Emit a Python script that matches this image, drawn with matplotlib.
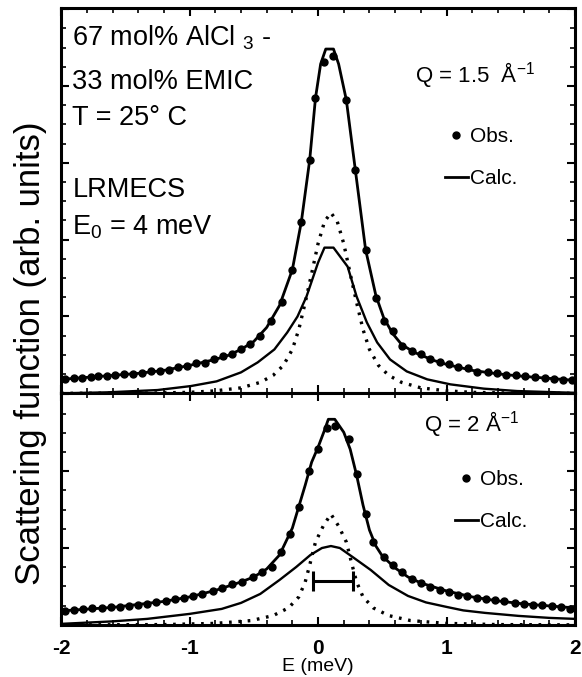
import matplotlib
matplotlib.use("Agg")
import matplotlib.pyplot as plt
from matplotlib.ticker import MultipleLocator

plt.rcParams['font.family'] = ['Liberation Sans', 'DejaVu Sans']
plt.rcParams['axes.unicode_minus'] = False

# ---- Q = 1.5 A^-1 (upper panel), arb. units ----
E_obs_top = [-1.97, -1.90, -1.84, -1.77, -1.71, -1.64, -1.58, -1.51, -1.44, -1.37,
             -1.30, -1.23, -1.16, -1.09, -1.02, -0.95, -0.88, -0.81, -0.74, -0.67,
             -0.60, -0.53, -0.45, -0.37, -0.28, -0.20, -0.13, -0.065, -0.02, 0.05,
             0.12, 0.22, 0.29, 0.37, 0.45, 0.51, 0.58, 0.65, 0.73, 0.80,
             0.87, 0.95, 1.02, 1.09, 1.17, 1.24, 1.32, 1.39, 1.46, 1.54,
             1.61, 1.69, 1.77, 1.84, 1.91, 1.98]
S_obs_top = [14, 15.7, 15.7, 16.7, 17.3, 17.3, 18.3, 19, 19, 20,
             22, 22, 23.3, 26.7, 27.3, 30.7, 30.7, 34, 37.3, 39,
             44, 49, 57, 72, 92, 124, 172, 234, 296, 332,
             338, 294, 224, 144, 96, 72, 62, 47, 42, 39,
             34, 31, 29, 26, 25, 21, 21, 20, 18.5, 18,
             17, 16, 15, 14, 13.5, 13]
E_calc_top = [-2.0, -1.8, -1.6, -1.4, -1.2, -1.0, -0.9, -0.8, -0.7, -0.6, -0.5, -0.4,
              -0.3, -0.2, -0.13, -0.065, -0.02, 0.02, 0.06, 0.12, 0.16, 0.22, 0.29,
              0.37, 0.45, 0.51, 0.58, 0.65, 0.75, 0.9, 1.0, 1.2, 1.4, 1.6, 1.8, 2.0]
S_calc_top = [14, 16, 18, 20, 23, 28, 31, 34, 38, 44, 52, 66,
              88, 124, 172, 234, 296, 330, 345, 345, 330, 294, 224,
              144, 98, 76, 60, 49, 41, 33, 29, 23, 19.5, 17, 15, 13]
E_nar_top = [-2.0, -1.3, -1.0, -0.8, -0.6, -0.45, -0.35, -0.27, -0.2, -0.15, -0.1, -0.05,
             0.0, 0.05, 0.1, 0.15, 0.2, 0.25, 0.3, 0.35, 0.4, 0.47, 0.55, 0.65,
             0.8, 1.0, 1.2, 1.5, 2.0]
S_nar_top = [0, 0.3, 1, 2.5, 5.5, 11, 18, 28, 44, 64, 91, 120,
             150, 172, 181, 172, 150, 120, 91, 64, 44, 28, 18, 11,
             5.5, 2.5, 1, 0.3, 0]
E_brd_top = [-2.0, -1.64, -1.25, -0.99, -0.79, -0.60, -0.47, -0.34, -0.24, -0.16, -0.09,
             0.0, 0.05, 0.12, 0.23, 0.30, 0.38, 0.46, 0.56, 0.69, 0.85, 1.03, 1.29,
             1.55, 2.0]
S_brd_top = [0, 1, 3.3, 7.3, 12, 21, 31, 44, 61, 77, 97,
             131, 146, 146, 127, 97, 71, 51, 34, 22, 14, 9, 4.7,
             2.3, 0.5]

# ---- Q = 2 A^-1 (lower panel) ----
E_obs_bot = [-1.97, -1.90, -1.83, -1.76, -1.68, -1.61, -1.54, -1.47, -1.40, -1.33,
             -1.26, -1.18, -1.11, -1.04, -0.97, -0.90, -0.82, -0.75, -0.67, -0.59,
             -0.51, -0.44, -0.36, -0.29, -0.22, -0.15, -0.07, 0.0, 0.07, 0.13,
             0.24, 0.30, 0.37, 0.43, 0.51, 0.58, 0.65, 0.73, 0.80, 0.87,
             0.95, 1.02, 1.09, 1.16, 1.24, 1.31, 1.38, 1.45, 1.53, 1.60,
             1.67, 1.74, 1.82, 1.89, 1.96]
S_obs_bot = [14, 15, 15.5, 16.5, 17, 17.5, 18, 19, 20, 21,
             22.5, 24, 25.5, 27, 29, 31, 34, 37, 41, 43.3,
             47.7, 52.7, 57.7, 72.7, 91, 117.7, 154, 176, 197.7, 199,
             186, 151, 111, 82.7, 68, 60, 52.7, 46, 42, 38,
             35, 33, 30, 28.5, 27, 25.5, 24.5, 23.5, 21.5, 21,
             20, 19.5, 19, 18, 16]
E_calc_bot = [-2.0, -1.6, -1.2, -1.0, -0.8, -0.6, -0.5, -0.4, -0.3, -0.2, -0.1, -0.05,
              0.0, 0.05, 0.08, 0.13, 0.2, 0.25, 0.3, 0.35, 0.4, 0.45, 0.5, 0.6,
              0.7, 0.8, 1.0, 1.2, 1.4, 1.6, 1.8, 2.0]
S_calc_bot = [14, 17.5, 23.5, 28, 34.5, 43, 48, 56, 70, 97, 140, 163,
              178, 195, 206, 206, 193, 176, 150, 120, 95, 79, 69, 57,
              48, 42, 34, 28, 24, 21, 19, 17]
E_nar_bot = [-2.0, -1.2, -0.8, -0.52, -0.35, -0.23, -0.15, -0.1, -0.067, -0.02, 0.04,
             0.1, 0.16, 0.22, 0.267, 0.3, 0.35, 0.43, 0.55, 0.72, 1.0, 1.4, 2.0]
S_nar_bot = [0, 0.3, 1.5, 4.3, 9.3, 17, 28, 43, 59, 83, 99,
             111, 99, 83, 59, 43, 28, 17, 9.3, 4.3, 1.5, 0.3, 0]
E_brd_bot = [-2.0, -1.6, -1.33, -1.0, -0.75, -0.6, -0.45, -0.3, -0.17, -0.06, 0.03,
             0.1, 0.17, 0.28, 0.41, 0.55, 0.70, 0.84, 1.0, 1.13, 1.3, 1.56, 1.8, 2.0]
S_brd_bot = [1, 3.5, 6, 11, 16, 22, 31, 45, 58, 70, 77,
             79, 77, 67, 55, 40, 29, 22.5, 18, 14.5, 12, 9, 7, 6]

# instrumental resolution bar (FWHM)
res_center, res_halfwidth, res_level = 0.115, 0.155, 44

fig, (ax1, ax2) = plt.subplots(2, 1, figsize=(5.82, 6.77), dpi=100, sharex=True,
                               gridspec_kw={'height_ratios': [386, 232], 'hspace': 0})
fig.subplots_adjust(left=0.105, right=0.988, top=0.988, bottom=0.077)

dotted = (0, (0.8, 2.0))
for ax, Eo, So, Ec, Sc, En, Sn, Eb, Sb, anchor in [
        (ax1, E_obs_top, S_obs_top, E_calc_top, S_calc_top, E_nar_top, S_nar_top,
         E_brd_top, S_brd_top, (0.71, 0.74)),
        (ax2, E_obs_bot, S_obs_bot, E_calc_bot, S_calc_bot, E_nar_bot, S_nar_bot,
         E_brd_bot, S_brd_bot, (0.73, 0.75))]:
    ax.plot(En, Sn, color='black', lw=2.4, linestyle=dotted)
    ax.plot(Eb, Sb, color='black', lw=1.7)
    calc, = ax.plot(Ec, Sc, color='black', lw=2.0)
    obs, = ax.plot(Eo, So, 'o', color='black', ms=5, linestyle='none')
    ax.set_xlim(-2, 2)
    ax.xaxis.set_major_locator(MultipleLocator(1))
    ax.xaxis.set_minor_locator(MultipleLocator(0.2))
    ax.yaxis.set_major_locator(MultipleLocator(77))
    ax.yaxis.set_minor_locator(MultipleLocator(19.25))
    ax.tick_params(which='both', direction='in', top=True, right=True, labelleft=False)
    ax.tick_params(which='major', length=6, width=1.5)
    ax.tick_params(which='minor', length=3.5, width=1.2)
    for sp in ax.spines.values():
        sp.set_linewidth(2.2)
    ax.legend([obs, calc], ['Obs.', 'Calc.'], frameon=False, numpoints=1,
              handlelength=1.1, handletextpad=0.1, labelspacing=1.1,
              fontsize=15, loc='upper left', bbox_to_anchor=anchor)

ax1.set_ylim(0, 386)
ax2.set_ylim(0, 232)
ax1.tick_params(labelbottom=False)

ax2.errorbar([res_center], [res_level], xerr=[res_halfwidth], color='black',
             lw=2.2, capsize=7, capthick=2.2, fmt='none')

ax1.text(0.688, 0.826, 'Q = 1.5  Å$^{\\mathregular{-1}}$', transform=ax1.transAxes,
         fontsize=16, va='center')
ax2.text(0.706, 0.866, 'Q = 2 Å$^{\\mathregular{-1}}$', transform=ax2.transAxes,
         fontsize=16, va='center')

left_lines = ['67 mol% AlCl $_{\\mathregular{3}}$ -', '33 mol% EMIC', 'T = 25° C',
              'LRMECS', 'E$_{\\mathregular{0}}$ = 4 meV']
left_y = [0.922, 0.808, 0.715, 0.528, 0.430]
for s, y in zip(left_lines, left_y):
    ax1.text(0.022, y, s, transform=ax1.transAxes, fontsize=19.5, va='center')

ax2.set_xticks([-2, -1, 0, 1, 2])
ax2.set_xticklabels(['-2', '-1', '0', '1', '2'], fontsize=15, fontweight='bold')
ax2.tick_params(axis='x', pad=10)
ax2.set_xlabel('E (meV)', fontsize=14, labelpad=0)
fig.text(0.052, 0.478, 'Scattering function (arb. units)', rotation=90,
         fontsize=25, ha='center', va='center')

fig.savefig('out.png', dpi=100)
